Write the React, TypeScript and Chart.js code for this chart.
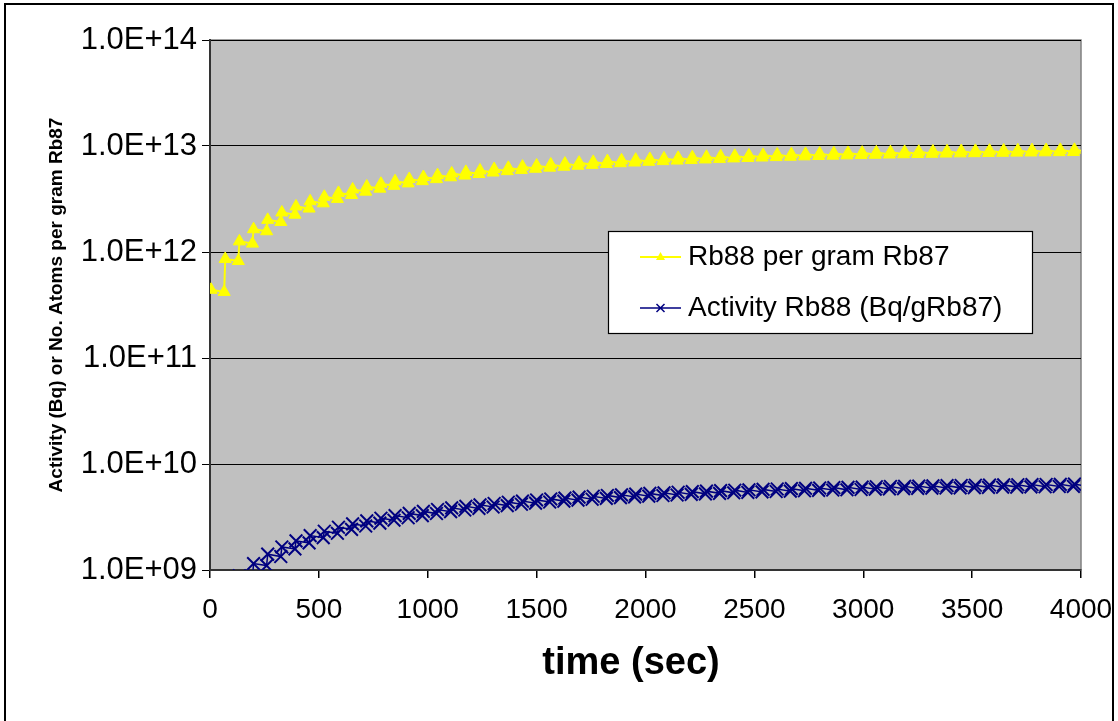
import React, { useEffect, useRef } from "react";
import { Chart, registerables } from "chart.js";

Chart.register(...registerables);

// time (s)
const times = [
  5, 65, 70, 130, 135, 195, 200, 260, 265, 325,
  330, 390, 395, 455, 460, 520, 525, 585, 590, 650,
  655, 715, 720, 780, 785, 845, 850, 910, 915, 975,
  980, 1040, 1045, 1105, 1110, 1170, 1175, 1235, 1240, 1300,
  1305, 1365, 1370, 1430, 1435, 1495, 1500, 1560, 1565, 1625,
  1630, 1690, 1695, 1755, 1760, 1820, 1825, 1885, 1890, 1950,
  1955, 2015, 2020, 2080, 2085, 2145, 2150, 2210, 2215, 2275,
  2280, 2340, 2345, 2405, 2410, 2470, 2475, 2535, 2540, 2600,
  2605, 2665, 2670, 2730, 2735, 2795, 2800, 2860, 2865, 2925,
  2930, 2990, 2995, 3055, 3060, 3120, 3125, 3185, 3190, 3250,
  3255, 3315, 3320, 3380, 3385, 3445, 3450, 3510, 3515, 3575,
  3580, 3640, 3645, 3705, 3710, 3770, 3775, 3835, 3840, 3900,
  3905, 3965, 3970, 4030,
];

// Rb88 atoms per gram Rb87
const rb88Atoms = [
  0.440e12, 0.420e12, 0.860e12, 0.822e12, 1.26e12, 1.20e12, 1.64e12, 1.57e12, 2.01e12, 1.92e12,
  2.36e12, 2.25e12, 2.69e12, 2.57e12, 3.01e12, 2.88e12, 3.32e12, 3.17e12, 3.61e12, 3.45e12,
  3.89e12, 3.71e12, 4.15e12, 3.96e12, 4.40e12, 4.21e12, 4.65e12, 4.44e12, 4.88e12, 4.66e12,
  5.10e12, 4.87e12, 5.31e12, 5.07e12, 5.51e12, 5.26e12, 5.70e12, 5.44e12, 5.88e12, 5.62e12,
  6.06e12, 5.79e12, 6.23e12, 5.95e12, 6.39e12, 6.10e12, 6.54e12, 6.25e12, 6.69e12, 6.38e12,
  6.82e12, 6.52e12, 6.96e12, 6.64e12, 7.08e12, 6.77e12, 7.21e12, 6.88e12, 7.32e12, 6.99e12,
  7.43e12, 7.10e12, 7.54e12, 7.20e12, 7.64e12, 7.29e12, 7.73e12, 7.39e12, 7.83e12, 7.47e12,
  7.91e12, 7.56e12, 8.00e12, 7.64e12, 8.08e12, 7.71e12, 8.15e12, 7.79e12, 8.23e12, 7.86e12,
  8.30e12, 7.92e12, 8.36e12, 7.99e12, 8.43e12, 8.05e12, 8.49e12, 8.11e12, 8.55e12, 8.16e12,
  8.60e12, 8.21e12, 8.65e12, 8.27e12, 8.71e12, 8.31e12, 8.75e12, 8.36e12, 8.80e12, 8.40e12,
  8.84e12, 8.45e12, 8.89e12, 8.49e12, 8.93e12, 8.52e12, 8.96e12, 8.56e12, 9.00e12, 8.60e12,
  9.04e12, 8.63e12, 9.07e12, 8.66e12, 9.10e12, 8.69e12, 9.13e12, 8.72e12, 9.16e12, 8.75e12,
  9.19e12, 8.77e12, 9.21e12, 8.80e12,
];

// Activity Rb88 (Bq/gRb87)
const rb88Activity = [
  0.308e9, 0.294e9, 0.602e9, 0.575e9, 0.882e9, 0.840e9, 1.15e9, 1.10e9, 1.41e9, 1.34e9,
  1.65e9, 1.58e9, 1.88e9, 1.80e9, 2.11e9, 2.02e9, 2.32e9, 2.22e9, 2.53e9, 2.42e9,
  2.72e9, 2.60e9, 2.91e9, 2.77e9, 3.08e9, 2.95e9, 3.26e9, 3.11e9, 3.42e9, 3.26e9,
  3.57e9, 3.41e9, 3.72e9, 3.55e9, 3.86e9, 3.68e9, 3.99e9, 3.81e9, 4.12e9, 3.93e9,
  4.24e9, 4.05e9, 4.36e9, 4.17e9, 4.47e9, 4.27e9, 4.58e9, 4.38e9, 4.68e9, 4.47e9,
  4.77e9, 4.56e9, 4.87e9, 4.65e9, 4.96e9, 4.74e9, 5.05e9, 4.82e9, 5.12e9, 4.89e9,
  5.20e9, 4.97e9, 5.28e9, 5.04e9, 5.35e9, 5.10e9, 5.41e9, 5.17e9, 5.48e9, 5.23e9,
  5.54e9, 5.29e9, 5.60e9, 5.35e9, 5.66e9, 5.40e9, 5.71e9, 5.45e9, 5.76e9, 5.50e9,
  5.81e9, 5.54e9, 5.85e9, 5.59e9, 5.90e9, 5.64e9, 5.94e9, 5.68e9, 5.99e9, 5.71e9,
  6.02e9, 5.75e9, 6.06e9, 5.79e9, 6.10e9, 5.82e9, 6.13e9, 5.85e9, 6.16e9, 5.88e9,
  6.19e9, 5.92e9, 6.22e9, 5.94e9, 6.25e9, 5.96e9, 6.27e9, 5.99e9, 6.30e9, 6.02e9,
  6.33e9, 6.04e9, 6.35e9, 6.06e9, 6.37e9, 6.08e9, 6.39e9, 6.10e9, 6.41e9, 6.13e9,
  6.43e9, 6.14e9, 6.45e9, 6.16e9,
];

const seriesLabels = ["Rb88 per gram Rb87", "Activity Rb88 (Bq/gRb87)"];
const yTickValues = [1e9, 1e10, 1e11, 1e12, 1e13, 1e14];
const xTitle = "time (sec)";
const yTitle = "Activity (Bq) or No. Atoms per gram Rb87";

const FONT = "'Liberation Sans', Arial, sans-serif";
const YELLOW = "#FFFF00";
const NAVY = "#000080";

const decorPlugin = {
  id: "decor",
  beforeDraw(chart: any) {
    const { ctx, chartArea: a } = chart;
    ctx.save();
    ctx.fillStyle = "#C0C0C0";
    ctx.fillRect(a.left, a.top, a.right - a.left, a.bottom - a.top);
    ctx.strokeStyle = "#808080";
    ctx.lineWidth = 1.5;
    ctx.strokeRect(a.left, a.top, a.right - a.left, a.bottom - a.top);
    ctx.restore();
  },
  afterDraw(chart: any) {
    const { ctx, chartArea: a } = chart;
    ctx.save();
    // outer border
    ctx.strokeStyle = "#000";
    ctx.lineWidth = 2;
    ctx.strokeRect(5, 4, 1108, 720);

    // axis titles
    ctx.fillStyle = "#000";
    ctx.textAlign = "center";
    ctx.textBaseline = "middle";
    ctx.font = `bold 38px ${FONT}`;
    ctx.fillText(xTitle, 631, 664);
    ctx.save();
    ctx.translate(57, (a.top + a.bottom) / 2);
    ctx.rotate(-Math.PI / 2);
    ctx.font = `bold 19px ${FONT}`;
    ctx.fillText(yTitle, 0, 0);
    ctx.restore();

    // legend
    const lx = 608, ly = 231, lw = 424, lh = 102;
    ctx.fillStyle = "#fff";
    ctx.fillRect(lx, ly, lw, lh);
    ctx.strokeStyle = "#000";
    ctx.lineWidth = 1.2;
    ctx.strokeRect(lx + 0.5, ly + 0.5, lw, lh);
    const rows = [257, 308];
    // row 1
    ctx.strokeStyle = YELLOW;
    ctx.lineWidth = 2;
    ctx.beginPath();
    ctx.moveTo(640, rows[0]);
    ctx.lineTo(681, rows[0]);
    ctx.stroke();
    ctx.fillStyle = YELLOW;
    ctx.beginPath();
    ctx.moveTo(660.5, rows[0] - 5);
    ctx.lineTo(665, rows[0] + 3);
    ctx.lineTo(656, rows[0] + 3);
    ctx.closePath();
    ctx.fill();
    // row 2
    ctx.strokeStyle = NAVY;
    ctx.lineWidth = 1.5;
    ctx.beginPath();
    ctx.moveTo(640, rows[1]);
    ctx.lineTo(681, rows[1]);
    ctx.moveTo(656.5, rows[1] - 4);
    ctx.lineTo(664.5, rows[1] + 4);
    ctx.moveTo(664.5, rows[1] - 4);
    ctx.lineTo(656.5, rows[1] + 4);
    ctx.stroke();
    ctx.fillStyle = "#000";
    ctx.textAlign = "left";
    ctx.textBaseline = "middle";
    ctx.font = `28px ${FONT}`;
    ctx.fillText(seriesLabels[0], 688, rows[0]);
    ctx.fillText(seriesLabels[1], 688, rows[1]);
    ctx.restore();
  },
};

export default function App() {
  const ref = useRef<HTMLCanvasElement>(null);
  useEffect(() => {
    document.body.style.margin = "0";
    const canvas = ref.current!;
    const chart = new Chart(canvas, {
      type: "line",
      data: {
        datasets: [
          {
            label: seriesLabels[0],
            data: times.map((t, i) => ({ x: t, y: rb88Atoms[i] })),
            borderColor: YELLOW,
            backgroundColor: YELLOW,
            borderWidth: 2,
            pointStyle: "triangle",
            pointRadius: 7,
            pointBorderWidth: 1,
            pointBackgroundColor: YELLOW,
            pointBorderColor: YELLOW,
            tension: 0,
          },
          {
            label: seriesLabels[1],
            data: times.map((t, i) => ({ x: t, y: rb88Activity[i] })),
            borderColor: NAVY,
            backgroundColor: NAVY,
            borderWidth: 1.5,
            pointStyle: "crossRot",
            pointRadius: 9,
            pointBorderWidth: 2,
            pointBorderColor: NAVY,
            tension: 0,
          },
        ],
      },
      options: {
        animation: false,
        responsive: false,
        maintainAspectRatio: false,
        layout: { padding: { top: 40, right: 37, bottom: 0, left: 0 } },
        plugins: { legend: { display: false }, tooltip: { enabled: false } },
        scales: {
          x: {
            type: "linear",
            min: 0,
            max: 4000,
            ticks: {
              stepSize: 500,
              color: "#000",
              font: { family: FONT, size: 28 },
              padding: 15,
              maxRotation: 0,
              callback: (v: any) => String(v),
            },
            grid: { drawOnChartArea: false, drawTicks: true, tickLength: 8, color: "#000", lineWidth: 1.5 },
            border: { color: "#333", width: 2 },
            afterFit: (s: any) => {
              s.height = 151;
              s.paddingLeft = 0;
              s.paddingRight = 0;
            },
          },
          y: {
            type: "logarithmic",
            min: 1e9,
            max: 1e14,
            afterBuildTicks: (s: any) => { s.ticks = yTickValues.map((v) => ({ value: v })); },
            ticks: {
              color: "#000",
              font: { family: FONT, size: 31 },
              padding: 5,
              callback: (v: any) => {
                const e = Math.round(Math.log10(Number(v)));
                return "1.0E+" + (e < 10 ? "0" : "") + e;
              },
            },
            grid: { color: "#000", lineWidth: 1, tickLength: 8 },
            border: { color: "#333", width: 2 },
            afterFit: (s: any) => {
              s.width = 210;
              s.paddingTop = 0;
              s.paddingBottom = 0;
            },
          },
        },
      },
      plugins: [decorPlugin],
    });
    return () => chart.destroy();
  }, []);
  return <canvas ref={ref} width={1118} height={721} style={{ display: "block" }} />;
}
